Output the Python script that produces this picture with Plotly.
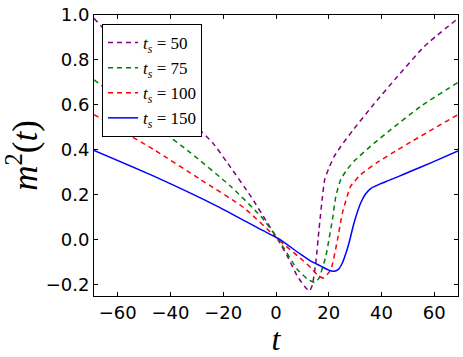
import plotly.graph_objects as go

# values
t_50 = [-69, -30.9, -23.9, -18.4, -9.6, -3.3, 1, 4.3, 8.1, 11, 12.7, 13.8, 15.1, 16.3, 17.6, 18.5, 20.1, 22, 24.6, 29, 37.2, 46.1, 56.2, 69]
m2_50 = [0.985, 0.512, 0.43, 0.342, 0.194, 0.076, -0.005, -0.073, -0.162, -0.21, -0.228, -0.2, -0.1, 0.046, 0.19, 0.27, 0.32, 0.37, 0.416, 0.485, 0.605, 0.727, 0.86, 0.985]

t_75 = [-69, -44.8, -32.4, -17.2, -5.8, 1, 8.1, 12, 14.8, 16.3, 18.9, 20.2, 21.4, 22.7, 24.6, 27.1, 29.6, 37.2, 43.5, 54.9, 69]
m2_75 = [0.712, 0.498, 0.387, 0.238, 0.105, 0.0, -0.132, -0.175, -0.19, -0.17, -0.073, 0.01, 0.09, 0.194, 0.27, 0.315, 0.35, 0.43, 0.49, 0.594, 0.70]

t_100 = [-69, -62.5, -46.3, -28.6, -12.1, 1, 10, 13.2, 16, 18, 20.8, 23.3, 25.2, 28.3, 32.1, 38.5, 46.1, 51.1, 69]
m2_100 = [0.557, 0.512, 0.401, 0.268, 0.142, 0.0, -0.09, -0.124, -0.16, -0.17, -0.132, 0.0, 0.12, 0.238, 0.29, 0.345, 0.40, 0.435, 0.557]

t_150 = [-69, -47.6, -22.2, -5.8, 1, 9.4, 13.2, 17, 20, 22, 23.5, 25.2, 26.5, 27.7, 29.6, 32.1, 34, 35.9, 39.7, 42.3, 46.1, 51.1, 58.7, 69]
m2_150 = [0.398, 0.29, 0.149, 0.046, 0.005, -0.065, -0.095, -0.117, -0.135, -0.14, -0.133, -0.102, -0.06, -0.013, 0.076, 0.164, 0.205, 0.228, 0.25, 0.262, 0.28, 0.305, 0.342, 0.395]

series = [
    ("50", t_50, m2_50, "purple", "5px,4px"),
    ("75", t_75, m2_75, "green", "5px,4px"),
    ("100", t_100, m2_100, "red", "5px,4px"),
    ("150", t_150, m2_150, "blue", "solid"),
]

fig = go.Figure()
for ts, t, m2, col, dash in series:
    fig.add_trace(go.Scatter(
        x=t, y=m2, mode="lines",
        name="<i>t</i><sub><i>s</i></sub> = " + ts,
        line=dict(color=col, width=1.5, dash=dash, shape="spline", smoothing=0.5),
    ))

axis_style = dict(
    showline=True, linecolor="black", linewidth=1, mirror="allticks",
    ticks="inside", ticklen=4, tickcolor="black", showgrid=False, zeroline=False,
    tickfont=dict(family="DejaVu Sans", size=18, color="black"),
)

fig.update_xaxes(range=[-69, 69], dtick=20, tick0=0,
                 title=dict(text="<i>t</i>", font=dict(family="Liberation Serif", size=32, color="black"), standoff=0),
                 **axis_style)
fig.update_yaxes(range=[-0.25, 1.0], dtick=0.2, tick0=0, tickformat=".1f",
                 title=dict(text="<i>m</i><sup>2</sup>(<i>t</i>)", font=dict(family="Liberation Serif", size=35, color="black"), standoff=6),
                 **axis_style)

fig.update_layout(
    width=463, height=357,
    margin=dict(l=94, r=5, t=15, b=61),
    plot_bgcolor="white", paper_bgcolor="white",
    legend=dict(x=0.022, y=0.968, xanchor="left", yanchor="top",
                bgcolor="white", bordercolor="black", borderwidth=1,
                font=dict(family="Liberation Serif", size=17, color="black")),
)

# drop the page's default body margin so the figure sits at the window corner
fig.write_html("out.html", config={"displayModeBar": False},
               post_script="document.body.style.margin='0';document.body.style.overflow='hidden';")
